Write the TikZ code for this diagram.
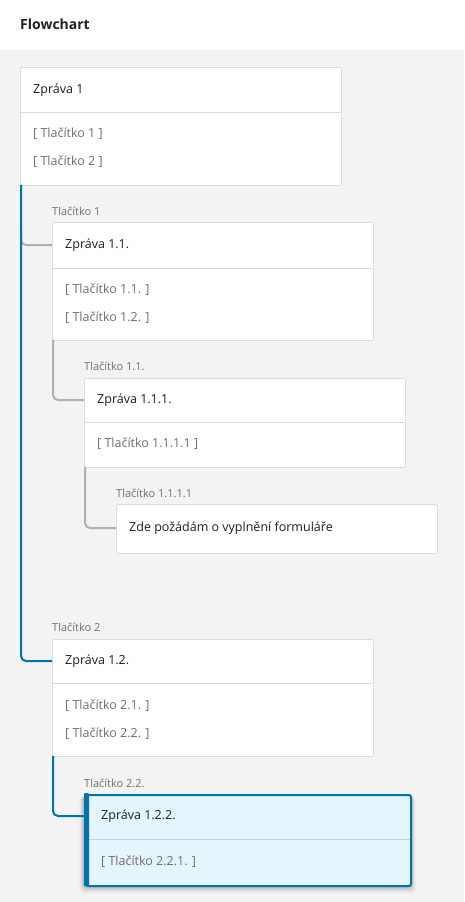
\documentclass[tikz,border=0pt]{standalone}
\usepackage{fontspec}
\setmainfont{Open Sans}
\usetikzlibrary{calc}
\definecolor{bgc}{HTML}{F3F3F3}
\definecolor{cardline}{HTML}{DCDCDC}
\definecolor{txt}{HTML}{1E1E1E}
\definecolor{btnc}{HTML}{6E6E6E}
\definecolor{lblc}{HTML}{707070}
\definecolor{grayln}{HTML}{B0B0B0}
\definecolor{bluec}{HTML}{0073AA}
\definecolor{lightblue}{HTML}{E5F5FD}
\definecolor{bluediv}{HTML}{C3D6DF}
\definecolor{headc}{HTML}{1D2327}
\begin{document}
\begin{tikzpicture}[x=1pt,y=-1pt,
  card/.style={draw=cardline, fill=white, line width=0.8pt, rounded corners=2pt, anchor=north west, minimum width=321pt, inner sep=0pt},
  title/.style={anchor=west, inner sep=0pt, text=txt, font=\fontsize{12.5}{14}\selectfont},
  btn/.style={anchor=west, inner sep=0pt, text=btnc, font=\fontsize{12.5}{14}\selectfont},
  lbl/.style={anchor=west, inner sep=0pt, text=lblc, font=\fontsize{11}{13}\selectfont},
  grayline/.style={draw=grayln, line width=2pt, rounded corners=5pt},
  blueline/.style={draw=bluec, line width=2pt, rounded corners=5pt},
  divider/.style={draw=cardline, line width=0.8pt}
]
\fill[bgc] (0,0) rectangle (464,902);
\fill[white] (0,0) rectangle (464,50);
\useasboundingbox (0,0) rectangle (464,902);

\node[anchor=west, inner sep=0pt, text=headc, font=\fontsize{14}{16}\selectfont\bfseries] (head) at (20,24) {Flowchart};

% ---------- connector start points ----------
\coordinate (j1) at (21,228);
\coordinate (s1) at (21,185);
\coordinate (s11) at (53,340);
\coordinate (s111) at (85,467);
\coordinate (s12) at (53,756);

% ---------- box 1 ----------
\node[card, minimum height=118pt] (b1) at (20,67) {};
\draw[divider] (20,112) -- (341,112);
\node[title] (t1) at (33,90) {Zpráva 1};
\node[btn] (b1a) at (33,134) {[ Tlačítko 1 ]};
\node[btn] (b1b) at (33,162) {[ Tlačítko 2 ]};

% ---------- box 1.1 ----------
\node[lbl] (l11) at (52,211) {Tlačítko 1};
\node[card, minimum height=118pt] (b11) at (52,222) {};
\draw[divider] (52,268) -- (373,268);
\node[title] (t11) at (65,245) {Zpráva 1.1.};
\node[btn] (b11a) at (65,290) {[ Tlačítko 1.1. ]};
\node[btn] (b11b) at (65,318) {[ Tlačítko 1.2. ]};

% ---------- box 1.1.1 ----------
\node[lbl] (l111) at (84,366) {Tlačítko 1.1.};
\node[card, minimum height=89pt] (b111) at (84,378) {};
\draw[divider] (84,422) -- (405,422);
\node[title] (t111) at (97,400) {Zpráva 1.1.1.};
\node[btn] (b111a) at (97,444) {[ Tlačítko 1.1.1.1 ]};

% ---------- box final form ----------
\node[lbl] (l1111) at (116,493) {Tlačítko 1.1.1.1};
\node[card, minimum height=49pt] (b1111) at (116,504) {};
\node[title] (t1111) at (129,528) {Zde požádám o vyplnění formuláře};

% ---------- box 1.2 ----------
\node[lbl] (l12) at (52,627) {Tlačítko 2};
\node[card, minimum height=117pt] (b12) at (52,639) {};
\draw[divider] (52,683) -- (373,683);
\node[title] (t12) at (65,661) {Zpráva 1.2.};
\node[btn] (b12a) at (65,706) {[ Tlačítko 2.1. ]};
\node[btn] (b12b) at (65,734) {[ Tlačítko 2.2. ]};

% ---------- box 1.2.2 (active) ----------
\node[lbl] (l122) at (84,783) {Tlačítko 2.2.};
\foreach \o/\a in {1/0.05,2/0.045,3/0.04,4/0.035,5/0.03,6/0.025,7/0.02,8/0.015}{
  \fill[black, opacity=\a, rounded corners=4pt] (84-\o*0.6,795+\o*0.2) rectangle (411+\o*0.6,886+\o);
}
\node[card, draw=bluec, fill=lightblue, line width=2pt, minimum width=325pt, minimum height=91pt] (b122) at (85,794) {};
\draw[draw=bluediv, line width=0.8pt] (89,839) -- (410,839);
\node[title] (t122) at (101,816) {Zpráva 1.2.2.};
\node[btn] (b122a) at (101,862) {[ Tlačítko 2.2.1. ]};

% ---------- connector lines ----------
\draw[grayline] (j1) |- (b11.west |- t11);
\draw[blueline] (s1) |- (b12.west |- t12);
\draw[grayline] (s11) |- (b111.west |- t111);
\draw[grayline] (s111) |- (b1111.west |- t1111);
\draw[blueline] (s12) |- (b122.west |- t122);
\fill[bluec, rounded corners=1pt] (84,793) rectangle (89,886);
\end{tikzpicture}
\end{document}
